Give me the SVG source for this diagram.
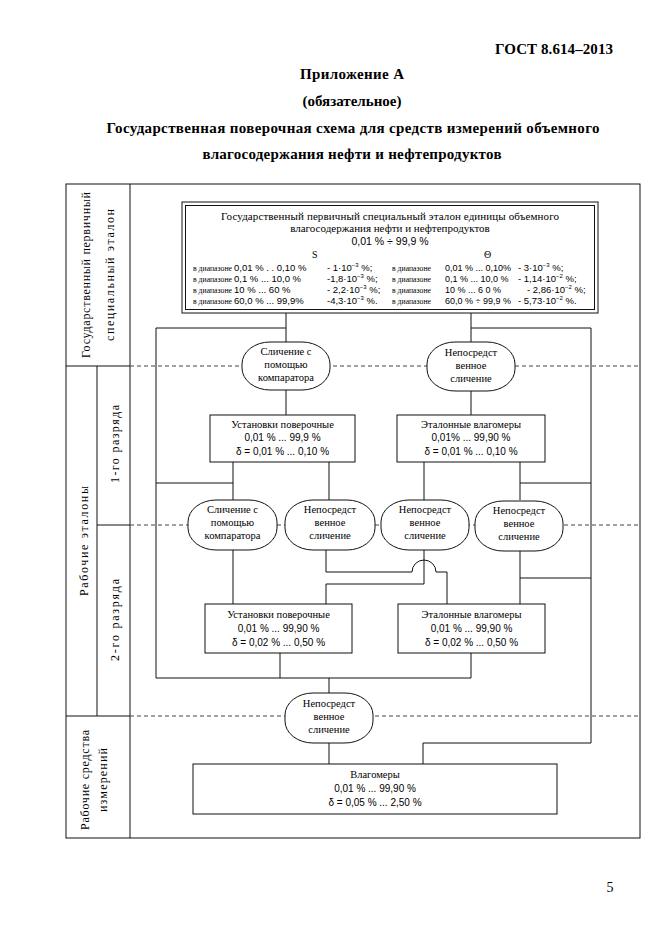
<svg xmlns="http://www.w3.org/2000/svg" width="661" height="935" viewBox="0 0 661 935">
<style>
.bg{fill:#fff}
.ser{font-family:"Liberation Serif","Times New Roman",serif;fill:#000}
.san{font-family:"Liberation Sans",Arial,sans-serif;fill:#000}
.hd{font-family:"Liberation Serif","Times New Roman",serif;font-weight:bold;font-size:15px;fill:#000}
.t{font-size:10.5px}
.n{font-size:10px}
.lab{font-size:12px}
.sm{font-size:7.5px}
.rv{font-size:9.5px}
.rr{font-size:9px}
.c{text-anchor:middle}
.ln{fill:none;stroke:#111;stroke-width:1}
.dash{fill:none;stroke:#444;stroke-width:1;stroke-dasharray:4 3}
.box{fill:#fff;stroke:#111;stroke-width:1}
.pill{fill:#fff;stroke:#111;stroke-width:1}
</style>
<rect class="bg" x="0" y="0" width="661" height="935"/>

<g id="header">
<text class="hd" x="613" y="54" text-anchor="end" textLength="118" lengthAdjust="spacing">ГОСТ 8.614–2013</text>
<text class="hd c" x="352" y="79" textLength="104" lengthAdjust="spacing">Приложение А</text>
<text class="hd c" x="352" y="106">(обязательное)</text>
<text class="hd c" x="353" y="133" textLength="493" lengthAdjust="spacing">Государственная поверочная схема для средств измерений объемного</text>
<text class="hd c" x="352" y="159" textLength="299" lengthAdjust="spacing">влагосодержания нефти и нефтепродуктов</text>
</g>

<g id="frame">
<rect class="ln" x="66" y="184" width="574" height="654"/>
<path class="ln" d="M130,184 V838 M66,366 H130 M66,716 H130 M97,366 V716 M97,525 H130"/>
<path class="dash" d="M130,366 H640 M130,525 H640 M130,716 H640"/>
<text class="ser lab c" transform="translate(90,275) rotate(-90)" textLength="166" lengthAdjust="spacing">Государственный первичный</text>
<text class="ser lab c" transform="translate(114,275) rotate(-90)" textLength="132" lengthAdjust="spacing">специальный эталон</text>
<text class="ser lab c" transform="translate(88,541) rotate(-90)" textLength="110" lengthAdjust="spacing">Рабочие эталоны</text>
<text class="ser lab c" transform="translate(119,444) rotate(-90)" textLength="78" lengthAdjust="spacing">1-го разряда</text>
<text class="ser lab c" transform="translate(119,620) rotate(-90)" textLength="82" lengthAdjust="spacing">2-го разряда</text>
<text class="ser lab c" transform="translate(89,780) rotate(-90)" textLength="100" lengthAdjust="spacing">Рабочие средства</text>
<text class="ser lab c" transform="translate(107,780) rotate(-90)" textLength="64" lengthAdjust="spacing">измерений</text>
</g>

<g id="connectors">
<path class="ln" d="M286,313 V342 M156,328 H286 M471,313 V342 M471,328 H591 V743 H423 V764"/>
<path class="ln" d="M286,390 V415 M471,391 V415"/>
<path class="ln" d="M233,462 V500 M329,462 V500 M424,462 V500 M520,462 V500 M156,328 V678 H471 M156,483 H233 M520,483 H591"/>
<path class="ln" d="M233,550 V604 M326,550 V572 H412 A12,12 0 0 1 436,572 H447 V604 M424,550 V584 H326 V604 M520,550 V604 M520,578 H591"/>
<path class="ln" d="M280,653 V678 M471,653 V678 M329,678 V693 M329,743 V764"/>
</g>

<g id="primary">
<rect class="box" x="182" y="202" width="416" height="111" stroke-width="2"/>
<rect class="box" x="185.5" y="205.5" width="409" height="104"/>
<text class="ser c" font-size="11" x="390" y="220" textLength="338" lengthAdjust="spacing">Государственный первичный специальный эталон единицы объемного</text>
<text class="ser c" font-size="11" x="390" y="232">влагосодержания нефти и нефтепродуктов</text>
<text class="san c" font-size="10.5" x="390" y="245">0,01 % ÷ 99,9 %</text>
<text class="ser n" x="312" y="258">S</text>
<text class="ser n" x="484" y="258">Θ</text>
<g class="ser">
<text class="sm" x="193" y="271" textLength="39" lengthAdjust="spacingAndGlyphs">в диапазоне</text>
<text class="sm" x="193" y="282" textLength="39" lengthAdjust="spacingAndGlyphs">в диапазоне</text>
<text class="sm" x="193" y="293" textLength="39" lengthAdjust="spacingAndGlyphs">в диапазоне</text>
<text class="sm" x="193" y="304" textLength="39" lengthAdjust="spacingAndGlyphs">в диапазоне</text>
<text class="sm" x="392" y="271" textLength="39" lengthAdjust="spacingAndGlyphs">в диапазоне</text>
<text class="sm" x="392" y="282" textLength="39" lengthAdjust="spacingAndGlyphs">в диапазоне</text>
<text class="sm" x="392" y="293" textLength="39" lengthAdjust="spacingAndGlyphs">в диапазоне</text>
<text class="sm" x="392" y="304" textLength="39" lengthAdjust="spacingAndGlyphs">в диапазоне</text>
</g>
<g class="san rv">
<text x="234" y="271">0,01 % . .  0,10 %</text>
<text x="234" y="282">0,1 % ...  10,0 %</text>
<text x="234" y="293">10 % ... 60 %</text>
<text x="234" y="304">60,0 % ...  99,9%</text>
<text x="327" y="271">- 1·10<tspan font-size="6" dy="-4">−3</tspan><tspan dy="4"> %;</tspan></text>
<text x="327" y="282">-1,8·10<tspan font-size="6" dy="-4">−3</tspan><tspan dy="4"> %;</tspan></text>
<text x="327" y="293">-  2,2·10<tspan font-size="6" dy="-4">−3</tspan><tspan dy="4"> %;</tspan></text>
<text x="327" y="304">-4,3·10<tspan font-size="6" dy="-4">−3</tspan><tspan dy="4"> %.</tspan></text>
<text class="rr" x="445" y="271">0,01 % ... 0,10%</text>
<text class="rr" x="445" y="282">0,1 % ... 10,0 %</text>
<text class="rr" x="445" y="293">10 % ... 6 0 %</text>
<text class="rr" x="445" y="304">60,0 % ÷ 99,9 %</text>
<text x="518" y="271">- 3·10<tspan font-size="6" dy="-4">−3</tspan><tspan dy="4"> %;</tspan></text>
<text x="518" y="282">- 1,14·10<tspan font-size="6" dy="-4">−2</tspan><tspan dy="4"> %;</tspan></text>
<text x="527" y="293">- 2,86·10<tspan font-size="6" dy="-4">−2</tspan><tspan dy="4"> %;</tspan></text>
<text x="518" y="304">- 5,73·10<tspan font-size="6" dy="-4">−2</tspan><tspan dy="4"> %.</tspan></text>
</g>
</g>

<g id="cmp1">
<rect class="pill" x="242" y="342" width="88" height="48" rx="28" ry="22"/>
<text class="ser t c" x="286" y="355">Сличение с</text>
<text class="ser t c" x="286" y="368">помощью</text>
<text class="ser t c" x="286" y="381">компаратора</text>
</g>
<g id="dir1">
<rect class="pill" x="427" y="342" width="88" height="49" rx="28" ry="22"/>
<text class="ser t c" x="471" y="356">Непосредст</text>
<text class="ser t c" x="471" y="369">венное</text>
<text class="ser t c" x="471" y="382">сличение</text>
</g>

<g id="setup1">
<rect class="box" x="210" y="415" width="145" height="47"/>
<text class="ser t c" x="282.5" y="428">Установки поверочные</text>
<text class="san n c" x="282.5" y="441">0,01 %  ... 99,9 %</text>
<text class="san n c" x="282.5" y="455">δ = 0,01 % ... 0,10 %</text>
</g>
<g id="ref1">
<rect class="box" x="397" y="415" width="148" height="47"/>
<text class="ser t c" x="471" y="428">Эталонные влагомеры</text>
<text class="san n c" x="471" y="441">0,01%  ... 99,90 %</text>
<text class="san n c" x="471" y="455">δ = 0,01 %  ... 0,10 %</text>
</g>

<g id="cmp2">
<rect class="pill" x="188" y="500" width="89" height="50" rx="28" ry="22"/>
<text class="ser t c" x="232.5" y="513">Сличение с</text>
<text class="ser t c" x="232.5" y="526">помощью</text>
<text class="ser t c" x="232.5" y="539">компаратора</text>
</g>
<g id="dir2">
<rect class="pill" x="285" y="500" width="90" height="50" rx="28" ry="22"/>
<text class="ser t c" x="330" y="513">Непосредст</text>
<text class="ser t c" x="330" y="526">венное</text>
<text class="ser t c" x="330" y="539">сличение</text>
</g>
<g id="dir3">
<rect class="pill" x="381" y="500" width="88" height="50" rx="28" ry="22"/>
<text class="ser t c" x="425" y="513">Непосредст</text>
<text class="ser t c" x="425" y="526">венное</text>
<text class="ser t c" x="425" y="539">сличение</text>
</g>
<g id="dir4">
<rect class="pill" x="475" y="501" width="88" height="50" rx="28" ry="22"/>
<text class="ser t c" x="519" y="514">Непосредст</text>
<text class="ser t c" x="519" y="527">венное</text>
<text class="ser t c" x="519" y="540">сличение</text>
</g>

<g id="setup2">
<rect class="box" x="205" y="604" width="147" height="49"/>
<text class="ser t c" x="278.5" y="618">Установки поверочные</text>
<text class="san n c" x="278.5" y="632">0,01 % ... 99,90 %</text>
<text class="san n c" x="278.5" y="646">δ = 0,02 % ...  0,50 %</text>
</g>
<g id="ref2">
<rect class="box" x="398" y="604" width="147" height="49"/>
<text class="ser t c" x="471.5" y="618">Эталонные влагомеры</text>
<text class="san n c" x="471.5" y="632">0,01 % ... 99,90 %</text>
<text class="san n c" x="471.5" y="646">δ = 0,02 % ...  0,50  %</text>
</g>

<g id="dir5">
<rect class="pill" x="285" y="693" width="88" height="50" rx="28" ry="22"/>
<text class="ser t c" x="329" y="707">Непосредст</text>
<text class="ser t c" x="329" y="720">венное</text>
<text class="ser t c" x="329" y="733">сличение</text>
</g>

<g id="work">
<rect class="box" x="193" y="764" width="364" height="50"/>
<text class="ser t c" x="375" y="778">Влагомеры</text>
<text class="san n c" x="375" y="792">0,01 %  ... 99,90 %</text>
<text class="san n c" x="375" y="806">δ = 0,05 % ... 2,50 %</text>
</g>

<g id="page">
<text class="ser c" x="610" y="892" font-size="14">5</text>
</g>
</svg>
